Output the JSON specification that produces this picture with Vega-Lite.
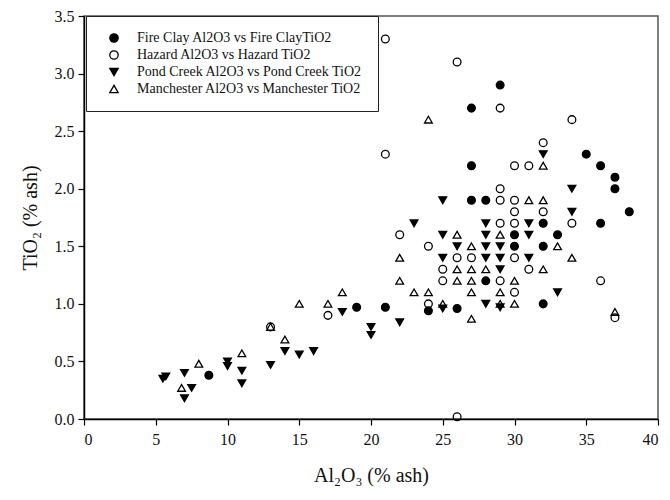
{
  "$schema": "https://vega.github.io/schema/vega-lite/v6.json",
  "width": 574,
  "height": 403,
  "autosize": "none",
  "padding": {"left": 84, "top": 16, "right": 12, "bottom": 81},
  "background": "white",
  "config": {
    "font": "Liberation Serif",
    "view": {"stroke": "#555", "strokeWidth": 1.5},
    "axis": {"grid": false, "domainColor": "black", "domainWidth": 1.5, "tickColor": "black", "tickWidth": 1.2, "tickSize": 6, "labelFont": "Liberation Serif", "labelFontSize": 16, "labelColor": "#111", "titleFont": "Liberation Serif", "titleFontSize": 20, "titleFontWeight": "normal", "titleColor": "#111"},
    "legend": {"orient": "none", "legendX": 2, "legendY": 0, "strokeColor": "#222", "fillColor": "white", "padding": 15, "labelFont": "Liberation Serif", "labelFontSize": 14, "labelColor": "#111", "labelLimit": 400, "symbolOffset": 6, "labelOffset": 16, "rowPadding": 3, "symbolSize": 70, "symbolStrokeWidth": 1.3}
  },
  "data": {
    "values": [
      {"s": "FC", "x": 8.7, "y": 0.38},
      {"s": "FC", "x": 19, "y": 0.97},
      {"s": "FC", "x": 21, "y": 0.97},
      {"s": "FC", "x": 24, "y": 0.94},
      {"s": "FC", "x": 26, "y": 0.96},
      {"s": "FC", "x": 27, "y": 2.7},
      {"s": "FC", "x": 27, "y": 2.2},
      {"s": "FC", "x": 27, "y": 1.9},
      {"s": "FC", "x": 28, "y": 1.9},
      {"s": "FC", "x": 28, "y": 1.2},
      {"s": "FC", "x": 29, "y": 2.9},
      {"s": "FC", "x": 30, "y": 1.6},
      {"s": "FC", "x": 30, "y": 1.5},
      {"s": "FC", "x": 32, "y": 1.7},
      {"s": "FC", "x": 32, "y": 1.5},
      {"s": "FC", "x": 32, "y": 1.0},
      {"s": "FC", "x": 33, "y": 1.6},
      {"s": "FC", "x": 35, "y": 2.3},
      {"s": "FC", "x": 36, "y": 2.2},
      {"s": "FC", "x": 36, "y": 1.7},
      {"s": "FC", "x": 37, "y": 2.1},
      {"s": "FC", "x": 37, "y": 2.0},
      {"s": "FC", "x": 38, "y": 1.8},
      {"s": "HZ", "x": 13, "y": 0.8},
      {"s": "HZ", "x": 17, "y": 0.9},
      {"s": "HZ", "x": 21, "y": 3.3},
      {"s": "HZ", "x": 21, "y": 2.3},
      {"s": "HZ", "x": 22, "y": 1.6},
      {"s": "HZ", "x": 24, "y": 1.5},
      {"s": "HZ", "x": 24, "y": 1.0},
      {"s": "HZ", "x": 25, "y": 1.3},
      {"s": "HZ", "x": 25, "y": 1.2},
      {"s": "HZ", "x": 26, "y": 3.1},
      {"s": "HZ", "x": 26, "y": 1.4},
      {"s": "HZ", "x": 26, "y": 0.02},
      {"s": "HZ", "x": 27, "y": 1.4},
      {"s": "HZ", "x": 29, "y": 2.7},
      {"s": "HZ", "x": 29, "y": 2.0},
      {"s": "HZ", "x": 29, "y": 1.9},
      {"s": "HZ", "x": 29, "y": 1.7},
      {"s": "HZ", "x": 29, "y": 1.2},
      {"s": "HZ", "x": 30, "y": 2.2},
      {"s": "HZ", "x": 30, "y": 1.9},
      {"s": "HZ", "x": 30, "y": 1.8},
      {"s": "HZ", "x": 30, "y": 1.7},
      {"s": "HZ", "x": 30, "y": 1.4},
      {"s": "HZ", "x": 30, "y": 1.1},
      {"s": "HZ", "x": 31, "y": 2.2},
      {"s": "HZ", "x": 31, "y": 1.3},
      {"s": "HZ", "x": 32, "y": 2.4},
      {"s": "HZ", "x": 32, "y": 1.8},
      {"s": "HZ", "x": 34, "y": 2.6},
      {"s": "HZ", "x": 34, "y": 1.7},
      {"s": "HZ", "x": 36, "y": 1.2},
      {"s": "HZ", "x": 37, "y": 0.88},
      {"s": "PC", "x": 5.5, "y": 0.35},
      {"s": "PC", "x": 5.7, "y": 0.37},
      {"s": "PC", "x": 7, "y": 0.4},
      {"s": "PC", "x": 7, "y": 0.18},
      {"s": "PC", "x": 7.5, "y": 0.27},
      {"s": "PC", "x": 10, "y": 0.5},
      {"s": "PC", "x": 10, "y": 0.46},
      {"s": "PC", "x": 11, "y": 0.42},
      {"s": "PC", "x": 11, "y": 0.31},
      {"s": "PC", "x": 13, "y": 0.47},
      {"s": "PC", "x": 14, "y": 0.59},
      {"s": "PC", "x": 15, "y": 0.56},
      {"s": "PC", "x": 16, "y": 0.59},
      {"s": "PC", "x": 18, "y": 0.93},
      {"s": "PC", "x": 20, "y": 0.8},
      {"s": "PC", "x": 20, "y": 0.73},
      {"s": "PC", "x": 22, "y": 0.84},
      {"s": "PC", "x": 23, "y": 1.7},
      {"s": "PC", "x": 25, "y": 1.9},
      {"s": "PC", "x": 25, "y": 1.6},
      {"s": "PC", "x": 25, "y": 1.4},
      {"s": "PC", "x": 25, "y": 0.96},
      {"s": "PC", "x": 26, "y": 1.5},
      {"s": "PC", "x": 28, "y": 1.7},
      {"s": "PC", "x": 28, "y": 1.6},
      {"s": "PC", "x": 28, "y": 1.5},
      {"s": "PC", "x": 28, "y": 1.4},
      {"s": "PC", "x": 28, "y": 1.0},
      {"s": "PC", "x": 29, "y": 1.5},
      {"s": "PC", "x": 29, "y": 1.4},
      {"s": "PC", "x": 29, "y": 1.3},
      {"s": "PC", "x": 29, "y": 0.97},
      {"s": "PC", "x": 31, "y": 1.7},
      {"s": "PC", "x": 31, "y": 1.6},
      {"s": "PC", "x": 31, "y": 1.4},
      {"s": "PC", "x": 32, "y": 2.3},
      {"s": "PC", "x": 33, "y": 1.1},
      {"s": "PC", "x": 34, "y": 2.0},
      {"s": "PC", "x": 34, "y": 1.8},
      {"s": "MC", "x": 6.8, "y": 0.27},
      {"s": "MC", "x": 8, "y": 0.48},
      {"s": "MC", "x": 11, "y": 0.57},
      {"s": "MC", "x": 13, "y": 0.8},
      {"s": "MC", "x": 14, "y": 0.69},
      {"s": "MC", "x": 15, "y": 1.0},
      {"s": "MC", "x": 17, "y": 1.0},
      {"s": "MC", "x": 18, "y": 1.1},
      {"s": "MC", "x": 22, "y": 1.4},
      {"s": "MC", "x": 22, "y": 1.2},
      {"s": "MC", "x": 23, "y": 1.1},
      {"s": "MC", "x": 24, "y": 2.6},
      {"s": "MC", "x": 24, "y": 1.1},
      {"s": "MC", "x": 25, "y": 1.0},
      {"s": "MC", "x": 26, "y": 1.6},
      {"s": "MC", "x": 26, "y": 1.3},
      {"s": "MC", "x": 26, "y": 1.2},
      {"s": "MC", "x": 27, "y": 1.5},
      {"s": "MC", "x": 27, "y": 1.3},
      {"s": "MC", "x": 27, "y": 1.2},
      {"s": "MC", "x": 27, "y": 1.1},
      {"s": "MC", "x": 27, "y": 0.87},
      {"s": "MC", "x": 28, "y": 1.3},
      {"s": "MC", "x": 29, "y": 1.6},
      {"s": "MC", "x": 29, "y": 1.1},
      {"s": "MC", "x": 29, "y": 1.0},
      {"s": "MC", "x": 30, "y": 1.2},
      {"s": "MC", "x": 30, "y": 1.0},
      {"s": "MC", "x": 31, "y": 1.9},
      {"s": "MC", "x": 32, "y": 2.2},
      {"s": "MC", "x": 32, "y": 1.9},
      {"s": "MC", "x": 32, "y": 1.3},
      {"s": "MC", "x": 33, "y": 1.5},
      {"s": "MC", "x": 34, "y": 1.4},
      {"s": "MC", "x": 37, "y": 0.93}
    ]
  },
  "mark": {"type": "point", "strokeWidth": 1.3, "opacity": 1, "size": 60},
  "encoding": {
    "x": {"field": "x", "type": "quantitative", "scale": {"domain": [0, 40], "nice": false}, "axis": {"values": [0, 5, 10, 15, 20, 25, 30, 35, 40], "title": "Al₂O₃ (% ash)", "labelPadding": 6, "titlePadding": 18}},
    "y": {"field": "y", "type": "quantitative", "scale": {"domain": [0, 3.5], "nice": false}, "axis": {"values": [0, 0.5, 1, 1.5, 2, 2.5, 3, 3.5], "format": ".1f", "title": "TiO₂ (% ash)", "labelPadding": 4, "titlePadding": 14}},
    "shape": {"field": "s", "type": "nominal", "scale": {"domain": ["FC", "HZ", "PC", "MC"], "range": ["circle", "circle", "triangle-down", "triangle-up"]}, "legend": {"title": null, "labelExpr": "datum.value == 'FC' ? 'Fire Clay Al2O3 vs Fire ClayTiO2' : datum.value == 'HZ' ? 'Hazard Al2O3 vs Hazard TiO2' : datum.value == 'PC' ? 'Pond Creek Al2O3 vs Pond Creek TiO2' : 'Manchester Al2O3 vs Manchester TiO2'"}},
    "fill": {"field": "s", "type": "nominal", "scale": {"domain": ["FC", "HZ", "PC", "MC"], "range": ["black", "transparent", "black", "transparent"]}, "legend": {"title": null, "labelExpr": "datum.value == 'FC' ? 'Fire Clay Al2O3 vs Fire ClayTiO2' : datum.value == 'HZ' ? 'Hazard Al2O3 vs Hazard TiO2' : datum.value == 'PC' ? 'Pond Creek Al2O3 vs Pond Creek TiO2' : 'Manchester Al2O3 vs Manchester TiO2'"}},
    "stroke": {"field": "s", "type": "nominal", "scale": {"domain": ["FC", "HZ", "PC", "MC"], "range": ["black", "black", "black", "black"]}, "legend": {"title": null, "labelExpr": "datum.value == 'FC' ? 'Fire Clay Al2O3 vs Fire ClayTiO2' : datum.value == 'HZ' ? 'Hazard Al2O3 vs Hazard TiO2' : datum.value == 'PC' ? 'Pond Creek Al2O3 vs Pond Creek TiO2' : 'Manchester Al2O3 vs Manchester TiO2'"}}
  }
}
